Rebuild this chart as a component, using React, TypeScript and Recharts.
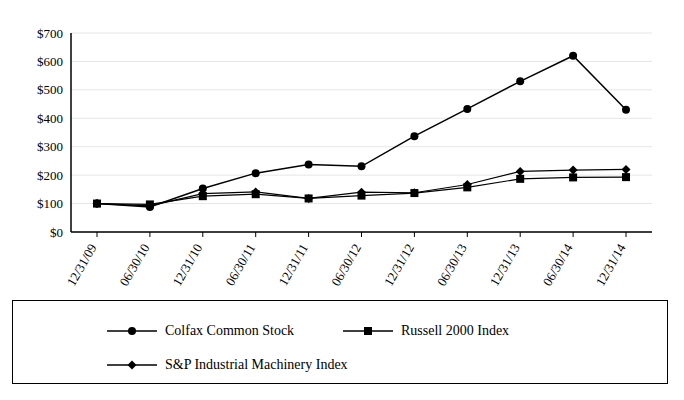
import { LineChart, Line, XAxis, YAxis, CartesianGrid } from 'recharts';

const dates = ['12/31/09', '06/30/10', '12/31/10', '06/30/11', '12/31/11', '06/30/12', '12/31/12', '06/30/13', '12/31/13', '06/30/14', '12/31/14'];
const colfax = [100, 88, 153, 207, 237, 231, 337, 433, 530, 620, 430];
const russell = [100, 97, 126, 133, 118, 128, 137, 157, 187, 192, 193];
const spMachinery = [100, 92, 135, 141, 118, 140, 138, 167, 213, 218, 220];
const yTicks = [0, 100, 200, 300, 400, 500, 600, 700];

const data = dates.map((d, i) => ({ date: d, colfax: colfax[i], russell: russell[i], sp: spMachinery[i] }));

const font = 'Liberation Serif';

const Diamond = (props: any) => {
  const { cx, cy } = props;
  return <polygon points={`${cx},${cy - 4.5} ${cx + 4.5},${cy} ${cx},${cy + 4.5} ${cx - 4.5},${cy}`} fill="#000" />;
};
const Square = (props: any) => {
  const { cx, cy } = props;
  return <rect x={cx - 4} y={cy - 4} width={8} height={8} fill="#000" />;
};
const Dot = (props: any) => {
  const { cx, cy } = props;
  return <circle cx={cx} cy={cy} r={4} fill="#000" />;
};

const XTick = ({ x, y, payload }: any) => (
  <text x={x} y={y + 8} transform={`rotate(-60 ${x} ${y + 8})`} textAnchor="end" fontSize={13} style={{ fontFamily: font }} fill="#000">
    {payload.value}
  </text>
);

const LegendItem = ({ shape, label }: { shape: React.ReactNode; label: string }) => (
  <div style={{ display: 'flex', alignItems: 'center', fontSize: 14 }}>
    <svg width={50} height={12} style={{ marginRight: 8 }}>
      <line x1={0} y1={6} x2={50} y2={6} stroke="#000" strokeWidth={1.3} />
      {shape}
    </svg>
    {label}
  </div>
);

export default function App() {
  return (
    <div style={{ position: 'absolute', left: 0, top: 0, width: 684, height: 400, background: '#fff', fontFamily: font }}>
      <LineChart width={684} height={296} data={data} margin={{ top: 33, right: 32, bottom: 4, left: 0 }} style={{ fontFamily: font }}>
        <CartesianGrid vertical={false} stroke="#e6e6e6" />
        <XAxis dataKey="date" interval={0} height={60} padding={{ left: 26, right: 26 }} tick={<XTick />} stroke="#000" strokeWidth={1.5} tickLine={{ stroke: '#000', strokeWidth: 1 }} tickSize={5} />
        <YAxis width={71} domain={[0, 700]} ticks={yTicks} tickFormatter={(v) => `$${v}`} tick={{ fontSize: 13, fill: '#000', style: { fontFamily: font } }} stroke="#000" strokeWidth={1.5} tickLine={false} />
        <Line dataKey="sp" stroke="#000" strokeWidth={1.2} dot={<Diamond />} isAnimationActive={false} />
        <Line dataKey="russell" stroke="#000" strokeWidth={1.2} dot={<Square />} isAnimationActive={false} />
        <Line dataKey="colfax" stroke="#000" strokeWidth={1.5} dot={<Dot />} isAnimationActive={false} />
      </LineChart>
      <div style={{ position: 'absolute', left: 12, top: 300, width: 656, height: 84, border: '1px solid #000', boxSizing: 'border-box' }}>
        <div style={{ position: 'absolute', left: 94, top: 22 }}>
          <LegendItem shape={<circle cx={25} cy={6} r={4} />} label="Colfax Common Stock" />
        </div>
        <div style={{ position: 'absolute', left: 330, top: 22 }}>
          <LegendItem shape={<rect x={21} y={2} width={8} height={8} />} label="Russell 2000 Index" />
        </div>
        <div style={{ position: 'absolute', left: 94, top: 56 }}>
          <LegendItem shape={<polygon points="25,1.5 29.5,6 25,10.5 20.5,6" />} label="S&P Industrial Machinery Index" />
        </div>
      </div>
    </div>
  );
}
